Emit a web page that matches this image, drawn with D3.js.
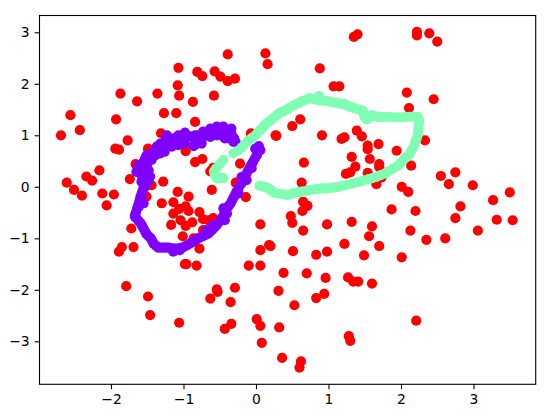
<!DOCTYPE html>
<html>
<head>
<meta charset="utf-8">
<script src="https://cdn.jsdelivr.net/npm/d3@7/dist/d3.min.js"></script>
<style>
html,body{margin:0;padding:0;background:#fff;}
svg{display:block;}
.tick text{font-family:"DejaVu Sans",sans-serif;font-size:13.9px;fill:#000;}
</style>
</head>
<body>
<div id="chart"></div>
<script>
const xTicks = [-2,-1,0,1,2,3];
const yTicks = [-3,-2,-1,0,1,2,3];
const xDomain = [-2.986,3.858];
const yDomain = [-3.835,3.326];
const classColors = ["#ff0000","#8000ff","#80ffb4"];

const redPoints = [
[-2.69,1.00],[-2.56,1.39],[-2.43,1.10],[-2.61,0.08],[-2.51,-0.06],[-2.40,-0.17],[-2.34,0.20],[-2.26,0.12],[-2.16,0.32],[-2.12,-0.13],
[-1.96,-0.15],[-2.06,-0.36],[-1.94,0.74],[-1.89,0.72],[-1.77,0.90],[-1.93,1.31],[-1.87,1.81],[-1.64,1.66],[-1.74,0.15],[-1.66,0.44],
[-1.49,0.74],[-1.46,0.05],[-1.51,-0.19],[-1.36,1.81],[-1.27,1.43],[-1.10,1.43],[-1.31,1.04],[-1.07,2.31],[-1.08,1.97],[-1.06,1.77],
[-0.81,2.23],[-0.74,2.15],[-0.57,2.24],[-0.49,2.14],[-0.39,2.05],[-0.29,2.10],[-0.39,2.57],[-0.58,1.77],[-0.87,1.65],[-0.84,1.26],
[0.13,2.59],[0.16,2.38],[-0.80,1.00],[-0.97,0.69],[-0.84,0.48],[-0.74,0.54],[-0.59,0.37],[-0.63,0.30],[-1.28,0.10],[-1.08,-0.10],
[-0.93,-0.19],[-0.61,-0.06],[-1.30,-0.32],[-1.14,-0.30],[-0.97,-0.38],[-0.28,0.08],[-0.14,-0.20],[-0.22,0.45],[-0.07,1.04],[0.27,1.00],
[-1.14,-0.52],[-1.06,-0.43],[-0.93,-0.47],[-0.78,-0.49],[-1.17,-0.74],[-1.04,-0.65],[-0.97,-0.76],[-0.88,-0.69],[-0.73,-0.63],[-0.66,-0.65],
[-0.59,-0.61],[-0.73,-0.84],[-1.01,-0.96],[-0.78,-1.20],[-0.86,-1.00],[-1.72,-0.81],[-1.69,-1.17],[-1.85,-1.17],[-1.89,-1.26],[-1.44,0.03],
[-1.79,-1.93],[-1.49,-2.13],[-1.46,-2.49],[-1.06,-2.64],[-0.96,-1.50],[-0.98,-1.50],[-0.82,-1.53],[-0.54,-1.99],[-0.53,-2.04],[-0.63,-2.17],
[-0.35,-2.24],[-0.29,-1.96],[-0.34,-2.66],[-0.43,-2.76],[0.01,-2.57],[0.06,-2.70],[0.08,-3.03],[-0.10,-1.53],[0.06,-1.53],[0.06,-1.23],
[0.06,-0.73],[0.18,-1.13],[0.20,-1.15],[0.31,-2.02],[0.53,-2.30],[0.32,-2.73],[0.36,-3.32],[0.62,-3.39],[0.60,-3.51],[0.38,-1.67],
[0.70,-1.68],[0.96,-1.77],[0.83,-2.16],[0.94,-2.08],[1.27,-1.76],[1.34,-1.84],[1.41,-1.84],[1.60,-1.88],[1.22,-1.11],[1.49,-1.33],
[1.70,-1.15],[1.56,-0.96],[1.60,-0.77],[1.32,-0.68],[0.98,-0.73],[0.65,-0.85],[0.51,-1.25],[0.83,-1.32],[0.98,-1.26],[2.01,-1.37],
[2.13,-0.85],[2.35,-1.03],[2.61,-1.00],[3.06,-0.85],[3.32,-0.64],[3.54,-0.65],[2.75,-0.61],[2.21,-2.60],[1.28,-2.90],[1.30,-2.99],
[1.87,-0.44],[2.20,-0.47],[0.48,-0.57],[0.50,-0.70],[0.64,-0.47],[0.71,-0.37],[0.65,-0.29],[1.35,2.91],[1.40,2.96],[2.22,3.01],
[2.22,2.94],[2.39,2.98],[2.50,2.82],[0.88,2.30],[1.07,1.95],[1.15,1.95],[2.08,1.83],[2.45,1.70],[2.11,1.53],[0.61,1.31],
[0.50,1.18],[0.28,0.99],[0.91,1.00],[1.18,0.93],[1.22,0.96],[1.39,1.09],[1.46,0.98],[1.54,0.80],[1.54,0.73],[1.69,0.83],
[1.94,0.70],[2.33,0.90],[1.32,0.58],[1.57,0.54],[1.70,0.44],[1.70,0.38],[1.37,0.39],[1.24,0.25],[1.30,0.28],[1.54,0.27],
[2.14,0.41],[2.55,0.21],[2.75,0.28],[2.66,0.05],[2.99,0.03],[3.50,-0.11],[3.27,-0.26],[2.82,-0.38],[2.01,0.00],[2.10,-0.10],
[0.66,0.47],[0.63,0.08],[1.66,0.05],[1.73,0.18]
];

const purplePoints = [
[0.04,0.79],[0.03,0.71],[0.01,0.61],[-0.04,0.49],[-0.08,0.39],[-0.13,0.26],[-0.17,0.13],[-0.21,0.05],[-0.27,-0.10],[-0.31,-0.21],
[-0.35,-0.32],[-0.40,-0.42],[-0.43,-0.52],[-0.47,-0.61],[-0.54,-0.74],[-0.60,-0.83],[-0.66,-0.91],[-0.73,-0.96],[-0.80,-1.00],[-0.86,-1.06],
[-0.93,-1.12],[-1.00,-1.17],[-1.07,-1.20],[-1.14,-1.20],[-1.21,-1.18],[-1.28,-1.18],[-1.35,-1.18],[-1.41,-1.11],[-1.45,-1.00],[-1.51,-0.92],
[-1.55,-0.81],[-1.59,-0.71],[-1.65,-0.61],[-1.67,-0.55],[-1.64,-0.42],[-1.61,-0.29],[-1.59,-0.18],[-1.56,-0.06],[-1.53,0.06],[-1.55,0.16],
[-1.51,0.23],[-1.60,0.26],[-1.62,0.36],[-1.57,0.42],[-1.53,0.55],[-1.44,0.52],[-1.32,0.65],[-1.26,0.68],[-1.32,0.79],[-1.26,0.84],
[-1.24,0.94],[-1.16,0.84],[-1.07,0.92],[-0.99,0.98],[-0.91,0.98],[-0.84,0.89],[-0.81,0.84],[-0.75,0.91],[-0.70,1.02],[-0.63,1.07],
[-0.55,1.10],[-0.47,1.00],[-0.43,1.10],[-0.38,0.94],[-0.34,1.04],[-0.30,0.94],[-0.28,0.87],
[-0.63,1.13],[-0.63,0.97],[-0.54,1.17],[-0.54,1.00],[-0.45,1.17],[-0.43,0.94],[-0.34,1.13],[-0.31,0.87],[-0.73,1.07],[-0.75,0.84],
[-0.84,1.00],[-0.86,0.79],[-0.98,1.05],[-0.98,0.84],[-1.07,1.00],[-1.07,0.81],[-1.16,0.94],[-1.16,0.78],[-1.23,1.00],[-1.32,0.84],
[-1.37,0.78],[-1.30,0.71],[-1.39,0.61],[-1.51,0.61],[-1.55,0.49],[-1.62,0.42],[-1.65,0.29],[-1.48,0.32],[-1.49,0.10],[-1.58,0.10],
[-1.53,0.00],[-1.58,-0.23],[-1.62,-0.39],[-1.55,-0.32],[-1.67,-0.58],[-0.13,0.13],[-0.20,0.19],[-0.24,-0.13],[-0.45,-0.42],[-0.40,-0.52],
[-0.43,-0.65],[-0.59,-0.74],[-0.68,-0.84],[0.06,0.71],[-0.01,0.74],[-0.06,0.36],[-1.14,-1.26],[-1.05,-1.23],
[0.035,0.75],[0.02,0.66],[-0.015,0.55],[-0.06,0.44],[-0.105,0.325],[-0.15,0.195],[-0.19,0.09],[-0.24,-0.025],[-0.29,-0.155],[-0.33,-0.265],
[-0.375,-0.37],[-0.415,-0.47],[-0.45,-0.565],[-0.505,-0.675],[-0.57,-0.785],[-0.63,-0.87],[-0.695,-0.935],[-0.765,-0.98],[-0.83,-1.03],[-0.895,-1.09],
[-0.965,-1.145],[-1.035,-1.185],[-1.105,-1.20],[-1.175,-1.19],[-1.245,-1.18],[-1.315,-1.18],[-1.38,-1.145],[-1.43,-1.055],[-1.48,-0.96],[-1.53,-0.865],
[-1.57,-0.76],[-1.62,-0.66],[-1.655,-0.49],[-1.625,-0.355],[-1.60,-0.235],[-1.575,-0.12],[-1.545,0.00],
[-1.44,0.60],[-1.36,0.70],[-1.42,0.68],[-1.50,0.45],[-1.46,0.20]
];

const mintPoints = [
[0.05,0.02],[0.085,0.01],[0.12,0.00],[0.155,-0.02],[0.19,-0.05],[0.225,-0.09],[0.26,-0.12],[0.305,-0.13],[0.35,-0.14],[0.39,-0.15],
[0.43,-0.16],[0.47,-0.15],[0.51,-0.13],[0.56,-0.11],[0.61,-0.10],[0.655,-0.09],[0.70,-0.08],[0.755,-0.06],[0.81,-0.05],[0.86,-0.04],
[0.91,-0.03],[0.955,-0.03],[1.00,-0.03],[1.045,-0.02],[1.09,-0.01],[1.145,0.00],[1.20,0.02],[1.26,0.04],[1.32,0.06],[1.375,0.08],
[1.43,0.10],[1.49,0.125],[1.55,0.15],[1.605,0.17],[1.66,0.19],[1.72,0.225],[1.78,0.26],[1.825,0.30],[1.87,0.34],[1.915,0.375],
[1.96,0.41],[1.995,0.465],[2.03,0.52],[2.065,0.565],[2.10,0.61],[2.13,0.675],[2.16,0.74],[2.18,0.805],[2.20,0.87],[2.215,0.935],
[2.23,1.00],[2.235,1.065],[2.24,1.13],[2.245,1.205],[2.25,1.28],[2.24,1.32],[2.23,1.36],[2.175,1.36],[2.12,1.36],[2.065,1.355],
[2.01,1.35],[1.95,1.35],[1.89,1.35],[1.835,1.355],[1.78,1.36],[1.735,1.355],[1.69,1.35],[1.645,1.37],[1.60,1.39],[1.565,1.35],
[1.53,1.31],[1.50,1.35],[1.485,1.415],[1.47,1.48],[1.42,1.50],[1.37,1.52],[1.335,1.535],[1.30,1.55],[1.255,1.58],[1.21,1.61],
[1.175,1.615],[1.14,1.62],[1.085,1.635],[1.03,1.65],[1.00,1.66],[0.97,1.67],[0.915,1.675],[0.86,1.68],[0.87,1.76],[0.80,1.70],
[0.74,1.72],[0.695,1.695],[0.65,1.67],[0.605,1.64],[0.56,1.61],[0.515,1.575],[0.47,1.54],[0.435,1.51],[0.40,1.48],[0.365,1.46],
[0.33,1.44],[0.295,1.40],[0.26,1.36],[0.225,1.32],[0.19,1.28],[0.155,1.24],[0.12,1.20],[0.09,1.15],[0.06,1.10],[0.025,1.05],
[-0.01,1.00],[-0.06,0.945],[-0.11,0.89],[-0.155,0.825],[-0.20,0.76],[-0.255,0.695],[-0.31,0.65],[-0.45,0.52],[-0.50,0.44],[-0.55,0.36],
[-0.58,0.30],[-0.57,0.24],[-0.54,0.16],[-0.49,0.17],[-0.45,0.17]
];

const width = 548, height = 416;
const plot = {left:39.5, right:535.7, top:15.5, bottom:384.3};

const x = d3.scaleLinear().domain(xDomain).range([plot.left, plot.right]);
const y = d3.scaleLinear().domain(yDomain).range([plot.bottom, plot.top]);

const svg = d3.select("#chart").append("svg")
  .attr("width", width).attr("height", height)
  .attr("viewBox", `0 0 ${width} ${height}`);

svg.append("rect").attr("width", width).attr("height", height).attr("fill", "#fff");

const minus = d => String(d).replace("-", "\u2212");

const groups = [redPoints, purplePoints, mintPoints];
groups.forEach((pts, i) => {
  svg.append("g").selectAll("circle").data(pts).join("circle")
    .attr("cx", d => x(d[0]))
    .attr("cy", d => y(d[1]))
    .attr("r", 5.1)
    .attr("fill", classColors[i]);
});

svg.append("rect")
  .attr("x", plot.left).attr("y", plot.top)
  .attr("width", plot.right - plot.left).attr("height", plot.bottom - plot.top)
  .attr("fill", "none").attr("stroke", "#000").attr("stroke-width", 1.1);

const xAxis = svg.append("g").attr("transform", `translate(0,${plot.bottom})`)
  .call(d3.axisBottom(x).tickValues(xTicks).tickFormat(minus).tickSize(4.9).tickSizeOuter(0).tickPadding(4.9));
const yAxis = svg.append("g").attr("transform", `translate(${plot.left},0)`)
  .call(d3.axisLeft(y).tickValues(yTicks).tickFormat(minus).tickSize(4.9).tickSizeOuter(0).tickPadding(4.9));
[xAxis, yAxis].forEach(a => {
  a.select(".domain").remove();
  a.selectAll(".tick line").attr("stroke", "#000").attr("stroke-width", 1.1);
});
</script>
</body>
</html>
